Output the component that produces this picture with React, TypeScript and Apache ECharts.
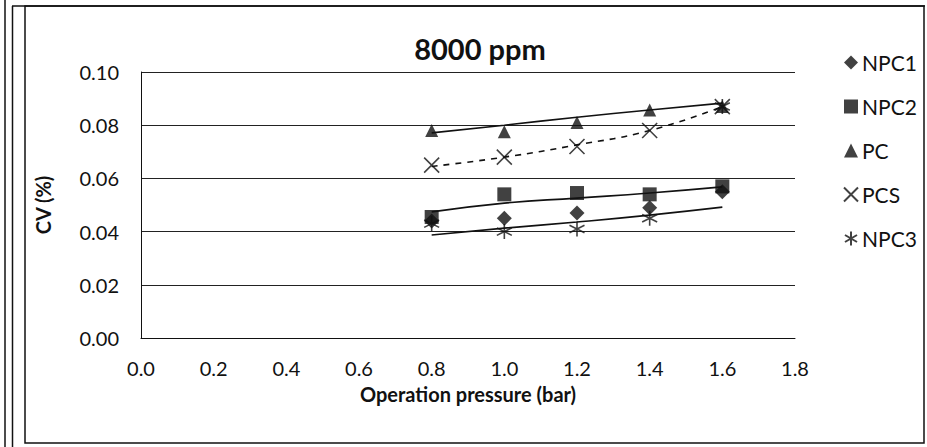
import React, { useEffect, useRef } from "react";
import * as echarts from "echarts";

const pressure = [0.8, 1.0, 1.2, 1.4, 1.6];
const npc1 = [0.044, 0.045, 0.047, 0.049, 0.055];
const npc2 = [0.0455, 0.054, 0.0545, 0.054, 0.057];
const pc = [0.078, 0.0775, 0.081, 0.0857, 0.087];
const pcs = [0.065, 0.068, 0.072, 0.078, 0.087];
const npc3 = [0.043, 0.04, 0.041, 0.045, 0.087];

const npc1Trend = [0.0387, 0.0413, 0.0436, 0.0462, 0.0492];
const npc2Trend = [0.0474, 0.0507, 0.0526, 0.0545, 0.0568];
const pcTrend = [0.0771, 0.08, 0.083, 0.0857, 0.0883];
const pcsTrend = [0.0645, 0.068, 0.0726, 0.078, 0.087];

const xTicks = [0, 1.8, 0.2];
const yTicks = [0, 0.1, 0.02];

const seriesNames = ["NPC1", "NPC2", "PC", "PCS", "NPC3"];

const FONT = "Lato";
const INK = "#111";

const pts = (ys: number[]) => pressure.map((x, i) => [x, ys[i]]);

export default function App() {
  const ref = useRef<HTMLDivElement>(null);
  useEffect(() => {
    if (!ref.current) return;
    const chart = echarts.init(ref.current, null, { renderer: "svg" });
    const trend = (name: string, ys: number[], dashed = false) => ({
      name,
      type: "line",
      data: pts(ys),
      smooth: true,
      showSymbol: false,
      symbol: "none",
      silent: true,
      lineStyle: { color: INK, width: 1.6, type: dashed ? [6, 6] : "solid" },
      z: 2,
    });
    const scatter = (name: string, ys: number[], symbol: string, size: number, outline = false) => ({
      name,
      type: "scatter",
      data: pts(ys),
      symbol,
      symbolSize: size,
      itemStyle: outline
        ? { color: "rgba(0,0,0,0)", borderColor: INK, borderWidth: 1.6 }
        : { color: INK },
      z: 3,
    });
    chart.setOption({
      animation: false,
      backgroundColor: "#fff",
      title: {
        text: "8000 ppm",
        left: 475,
        top: 29,
        textAlign: "center",
        textStyle: { fontFamily: FONT, fontWeight: "bold", fontSize: 29, color: INK },
      },
      legend: {
        orient: "vertical",
        left: 838,
        top: 47,
        itemWidth: 14,
        itemHeight: 14,
        itemGap: 23,
        data: seriesNames,
        textStyle: { fontFamily: FONT, fontSize: 21, color: INK, padding: [0, 0, 0, -1] },
      },
      grid: { left: 141, right: 132, top: 72, bottom: 109, containLabel: false },
      xAxis: {
        type: "value",
        min: xTicks[0],
        max: xTicks[1],
        interval: xTicks[2],
        name: "Operation pressure (bar)",
        nameLocation: "middle",
        nameGap: 46,
        nameTextStyle: { fontFamily: FONT, fontWeight: "bold", fontSize: 20, color: INK },
        axisLine: { show: true, lineStyle: { color: INK, width: 1 } },
        axisTick: { show: false },
        splitLine: { show: false },
        axisLabel: {
          fontFamily: FONT,
          fontSize: 20,
          color: INK,
          margin: 20,
          formatter: (v: number) => v.toFixed(1),
        },
      },
      yAxis: {
        type: "value",
        min: yTicks[0],
        max: yTicks[1],
        interval: yTicks[2],
        name: "CV (%)",
        nameLocation: "middle",
        nameGap: 88,
        nameTextStyle: { fontFamily: FONT, fontWeight: "bold", fontSize: 20, color: INK },
        axisLine: { show: true, lineStyle: { color: INK, width: 1 } },
        axisTick: { show: false },
        splitLine: { show: true, lineStyle: { color: "#222", width: 1 } },
        axisLabel: {
          fontFamily: FONT,
          fontSize: 20,
          color: INK,
          margin: 22,
          formatter: (v: number) => v.toFixed(2),
        },
      },
      graphic: [
        { type: "line", shape: { x1: 5, y1: 0, x2: 5, y2: 447 }, style: { stroke: INK, lineWidth: 1.5 } },
        { type: "line", shape: { x1: 12.5, y1: 6, x2: 12.5, y2: 447 }, style: { stroke: INK, lineWidth: 1.5 } },
        { type: "line", shape: { x1: 12, y1: 6, x2: 925, y2: 6 }, style: { stroke: INK, lineWidth: 1.5 } },
        {
          type: "rect",
          shape: { x: 25, y: 6, width: 899, height: 437 },
          style: { fill: "none", stroke: INK, lineWidth: 1.5 },
        },
      ],
      series: [
        trend("NPC1 trend", npc1Trend),
        trend("NPC2 trend", npc2Trend),
        trend("PC trend", pcTrend),
        trend("PCS trend", pcsTrend, true),
        scatter("NPC1", npc1, "diamond", 15),
        scatter("NPC2", npc2, "rect", 14),
        scatter("PC", pc, "triangle", 13),
        scatter("PCS", pcs, "path://M0,0L10,10M10,0L0,10", 15, true),
        scatter("NPC3", npc3, "path://M5,0L5,10M0.7,2.5L9.3,7.5M0.7,7.5L9.3,2.5", 15, true),
      ],
    });
    return () => chart.dispose();
  }, []);
  return (
    <div
      ref={ref}
      style={{ position: "absolute", left: 0, top: 0, width: 927, height: 447 }}
    />
  );
}
